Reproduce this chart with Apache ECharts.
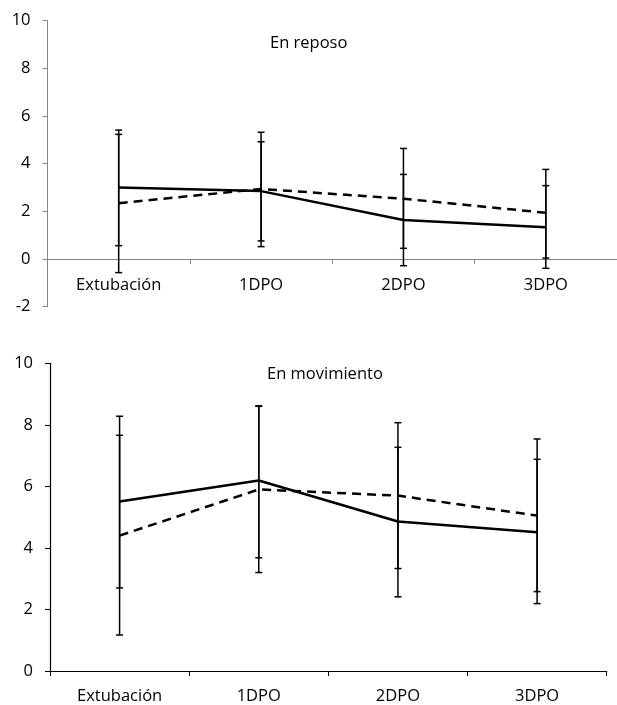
<!DOCTYPE html>
<html>
<head>
<meta charset="utf-8">
<script src="https://cdn.jsdelivr.net/npm/echarts@6/dist/echarts.min.js"></script>
<style>
  html, body { margin: 0; padding: 0; background: #fff; }
  #main { width: 617px; height: 705px; }
</style>
</head>
<body>
<div id="main"></div>
<script>
// categorias y valores
var categories = ['Extubación', '1DPO', '2DPO', '3DPO'];

// En reposo
var reposoSolid = [3.0, 2.85, 1.64, 1.33];
var reposoSolidLow = [0.56, 0.76, -0.28, -0.39];
var reposoSolidHigh = [5.41, 4.92, 3.55, 3.08];
var reposoDashed = [2.34, 2.94, 2.53, 1.94];
var reposoDashedLow = [-0.57, 0.52, 0.45, 0.04];
var reposoDashedHigh = [5.23, 5.32, 4.64, 3.76];

// En movimiento
var movSolid = [5.51, 6.19, 4.86, 4.51];
var movSolidLow = [2.70, 3.68, 2.41, 2.19];
var movSolidHigh = [8.28, 8.62, 7.27, 6.88];
var movDashed = [4.40, 5.90, 5.70, 5.05];
var movDashedLow = [1.17, 3.20, 3.33, 2.58];
var movDashedHigh = [7.66, 8.60, 8.07, 7.54];

var FONT = '"Open Sans", sans-serif';
var FS = 16.5;

function errData(low, high) {
  return low.map(function (v, i) { return [i, v, high[i]]; });
}

// barra de error vertical con topes
function renderErr(params, api) {
  var lo = api.coord([api.value(0), api.value(1)]);
  var hi = api.coord([api.value(0), api.value(2)]);
  var w = 3.5;
  var st = { stroke: '#000', lineWidth: 1.5 };
  return {
    type: 'group',
    children: [
      { type: 'line', shape: { x1: lo[0], y1: lo[1], x2: hi[0], y2: hi[1] }, style: st },
      { type: 'line', shape: { x1: lo[0] - w, y1: lo[1], x2: lo[0] + w, y2: lo[1] }, style: st },
      { type: 'line', shape: { x1: hi[0] - w, y1: hi[1], x2: hi[0] + w, y2: hi[1] }, style: st }
    ]
  };
}

function lineSeries(data, idx, dashed) {
  return {
    type: 'line',
    xAxisIndex: idx,
    yAxisIndex: idx,
    data: data,
    symbol: 'none',
    z: 3,
    lineStyle: { color: '#000', width: 2.5, type: dashed ? [9, 6] : 'solid' }
  };
}

function errSeries(low, high, idx) {
  return {
    type: 'custom',
    xAxisIndex: idx,
    yAxisIndex: idx,
    renderItem: renderErr,
    data: errData(low, high),
    z: 2
  };
}

var chart = echarts.init(document.getElementById('main'));
var option = {
  animation: false,
  backgroundColor: '#fff',
  textStyle: { fontFamily: FONT },
  title: [
    { text: 'En reposo', left: 265, top: 30, textStyle: { fontFamily: FONT, fontSize: FS, fontWeight: 'normal', color: '#000' } },
    { text: 'En movimiento', left: 262, top: 361, textStyle: { fontFamily: FONT, fontSize: FS, fontWeight: 'normal', color: '#000' } }
  ],
  grid: [
    { left: 47.5, top: 20.7, width: 571, height: 286 },
    { left: 50, top: 363.3, width: 556.7, height: 308.4 }
  ],
  xAxis: [
    {
      type: 'category', gridIndex: 0, data: categories,
      axisLine: { onZero: true, lineStyle: { color: '#868686', width: 1 } },
      axisTick: { show: true, length: 5, lineStyle: { color: '#868686' } },
      axisLabel: { color: '#000', fontSize: FS, fontFamily: FONT, margin: -30 }
    },
    {
      type: 'category', gridIndex: 1, data: categories,
      axisLine: { lineStyle: { color: '#000', width: 1.2 } },
      axisTick: { show: true, length: 5, lineStyle: { color: '#000' } },
      axisLabel: { color: '#000', fontSize: FS, fontFamily: FONT, margin: 17 }
    }
  ],
  yAxis: [
    {
      type: 'value', gridIndex: 0, min: -2, max: 10, interval: 2,
      splitLine: { show: false },
      axisLine: { show: true, lineStyle: { color: '#868686', width: 1 } },
      axisTick: { show: true, length: 5, lineStyle: { color: '#868686' } },
      axisLabel: { color: '#000', fontSize: FS, fontFamily: FONT, margin: 17 }
    },
    {
      type: 'value', gridIndex: 1, min: 0, max: 10, interval: 2,
      splitLine: { show: false },
      axisLine: { show: true, lineStyle: { color: '#000', width: 1.2 } },
      axisTick: { show: true, length: 5, lineStyle: { color: '#000' } },
      axisLabel: { color: '#000', fontSize: FS, fontFamily: FONT, margin: 17 }
    }
  ],
  series: [
    errSeries(reposoSolidLow, reposoSolidHigh, 0),
    errSeries(reposoDashedLow, reposoDashedHigh, 0),
    lineSeries(reposoSolid, 0, false),
    lineSeries(reposoDashed, 0, true),
    errSeries(movSolidLow, movSolidHigh, 1),
    errSeries(movDashedLow, movDashedHigh, 1),
    lineSeries(movSolid, 1, false),
    lineSeries(movDashed, 1, true)
  ]
};
chart.setOption(option);
</script>
</body>
</html>
